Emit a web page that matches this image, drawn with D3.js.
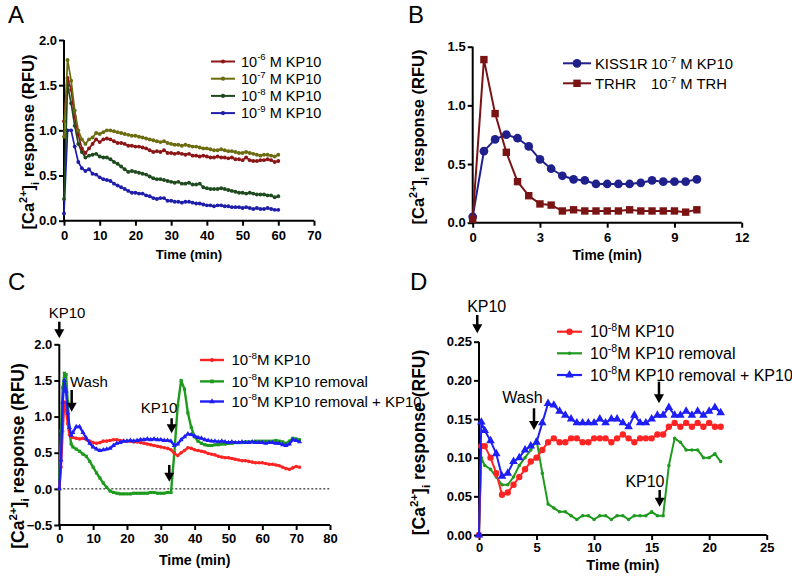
<!DOCTYPE html>
<html><head><meta charset="utf-8">
<script src="https://cdn.jsdelivr.net/npm/d3@7"></script>
<style>body{margin:0;background:#fff}svg{display:block}</style>
</head><body>
<svg id="c" width="792" height="582"></svg>
<script>
const FONT = '"Liberation Sans", Arial, sans-serif';

// ---------- Panel A ----------
const timesA = [0,1,2,3,4,5,6,7,8,9,10,11,12,13,14,15,16,17,18,19,20,21,22,23,24,25,26,27,28,29,30,31,32,33,34,35,36,37,38,39,40,41,42,43,44,45,46,47,48,49,50,51,52,53,54,55,56,57,58,59,60];
const kp6A = [1.10,1.58,1.45,1.15,0.95,0.80,0.75,0.80,0.85,0.90, 0.87,0.90,0.91,0.90,0.88,0.86,0.86,0.85,0.83,0.83, 0.82,0.82,0.81,0.80,0.78,0.76,0.77,0.76,0.78,0.75, 0.75,0.74,0.75,0.74,0.73,0.74,0.72,0.72,0.71,0.72, 0.71,0.70,0.70,0.71,0.70,0.70,0.69,0.70,0.68,0.68, 0.67,0.70,0.67,0.66,0.66,0.67,0.67,0.68,0.67,0.65,0.66];
const kp7A = [0.93,1.78,1.55,1.22,1.00,0.90,0.85,0.90,0.92,0.97, 0.96,0.98,1.00,1.00,0.99,0.98,0.97,0.96,0.95,0.94, 0.94,0.93,0.92,0.91,0.90,0.89,0.88,0.87,0.88,0.86, 0.85,0.84,0.84,0.83,0.84,0.83,0.82,0.82,0.81,0.80, 0.80,0.79,0.78,0.78,0.79,0.78,0.77,0.77,0.76,0.75, 0.75,0.76,0.75,0.74,0.73,0.72,0.73,0.73,0.72,0.71,0.73];
const kp8A = [0.24,1.50,1.30,1.05,0.85,0.76,0.70,0.72,0.73,0.74, 0.71,0.70,0.70,0.68,0.65,0.63,0.60,0.57,0.54,0.55, 0.54,0.53,0.52,0.51,0.49,0.47,0.46,0.46,0.45,0.44, 0.43,0.42,0.43,0.41,0.41,0.42,0.40,0.40,0.41,0.37, 0.36,0.35,0.35,0.35,0.36,0.35,0.34,0.33,0.32,0.31, 0.31,0.30,0.31,0.30,0.29,0.29,0.29,0.28,0.28,0.26,0.27];
const kp9A = [0.08,1.00,1.00,0.82,0.65,0.58,0.55,0.57,0.52,0.51, 0.48,0.46,0.45,0.44,0.41,0.39,0.37,0.35,0.33,0.31, 0.31,0.30,0.30,0.28,0.27,0.25,0.24,0.25,0.25,0.22, 0.22,0.21,0.21,0.20,0.21,0.21,0.20,0.19,0.19,0.18, 0.17,0.17,0.16,0.17,0.17,0.16,0.16,0.15,0.15,0.15, 0.14,0.15,0.14,0.13,0.14,0.13,0.13,0.14,0.13,0.12,0.12];
const legendA = [["-6"],["-7"],["-8"],["-9"]];
const xTicksA = [0,10,20,30,40,50,60,70];
const yTicksA = [0,0.5,1.0,1.5,2.0];

// ---------- Panel B ----------
const timesB = [0,0.5,1,1.5,2,2.5,3,3.5,4,4.5,5,5.5,6,6.5,7,7.5,8,8.5,9,9.5,10];
const kiss1rB = [0.05,0.61,0.71,0.75,0.72,0.65,0.54,0.46,0.40,0.37,0.36,0.33,0.33,0.33,0.33,0.34,0.36,0.35,0.35,0.35,0.37];
const trhrB   = [0.03,1.39,0.93,0.60,0.35,0.23,0.16,0.15,0.10,0.11,0.10,0.10,0.10,0.10,0.11,0.10,0.10,0.10,0.10,0.09,0.11];
const xTicksB = [0,3,6,9,12];
const yTicksB = [0,0.5,1.0,1.5];

// ---------- Panel C ----------
const timesC = [0,0.5,1,1.5,2,2.5,3,3.5,4,5,6,7,8,9,10,11,12,13,14,15,16,17,18,19,20,21,22,23,24,25,26,27,28,29,30,31,32,33,34,35,36,37,38,39,40,41,42,43,44,45,46,47,48,49,50,51,52,53,54,55,56,57,58,59,60,61,62,63,64,65,66,67,68,69,70,71];
const kpC = [0,0.30,0.80,1.20,1.10,0.90,0.75,0.72,0.71,
  0.70,0.69,0.70,0.68,0.66,0.64,0.63,0.64,0.66,0.66,
  0.67,0.68,0.68,0.67,0.66,0.66,0.66,0.65,0.65,0.64,
  0.63,0.62,0.61,0.60,0.59,0.58,0.57,0.56,0.54,0.49,
  0.46,0.50,0.53,0.57,0.56,0.54,0.53,0.52,0.51,0.49,
  0.48,0.47,0.45,0.44,0.43,0.43,0.42,0.41,0.40,0.39,
  0.39,0.38,0.37,0.36,0.36,0.36,0.35,0.34,0.34,0.33,
  0.32,0.30,0.28,0.27,0.29,0.31,0.30];
const removalC = [0,0.80,1.40,1.60,1.58,1.20,0.80,0.62,0.58,
  0.55,0.52,0.48,0.45,0.38,0.30,0.22,0.15,0.08,0.02,
  -0.03,-0.05,-0.06,-0.07,-0.07,-0.07,-0.07,-0.06,-0.06,-0.06,
  -0.06,-0.06,-0.05,-0.05,-0.06,-0.06,-0.06,-0.05,-0.05,0.50,
  1.15,1.50,1.38,1.05,0.85,0.72,0.66,0.63,0.61,0.60,
  0.60,0.61,0.61,0.62,0.62,0.63,0.63,0.64,0.64,0.64,
  0.65,0.65,0.65,0.66,0.66,0.66,0.66,0.66,0.66,0.67,
  0.66,0.65,0.63,0.66,0.70,0.69,0.68];
const removalKpC = [0,0.40,1.20,1.50,1.35,1.05,0.85,0.74,0.78,
  0.86,0.86,0.78,0.70,0.63,0.58,0.55,0.53,0.54,0.55,
  0.56,0.60,0.63,0.64,0.66,0.66,0.67,0.66,0.67,0.68,
  0.68,0.69,0.68,0.69,0.68,0.68,0.67,0.67,0.66,0.60,
  0.62,0.68,0.72,0.76,0.75,0.73,0.71,0.70,0.68,0.67,
  0.66,0.66,0.65,0.66,0.65,0.64,0.65,0.64,0.64,0.65,
  0.64,0.64,0.65,0.64,0.64,0.64,0.63,0.64,0.64,0.63,
  0.63,0.61,0.60,0.62,0.68,0.67,0.65];
const xTicksC = [0,10,20,30,40,50,60,70,80];
const yTicksC = [-0.5,0,0.5,1.0,1.5,2.0];

// ---------- Panel D ----------
const timesD = [0,0.2,0.5,1,1.5,2,2.5,3,3.5,4,4.5,5,5.5,6,6.5,7,7.5,8,8.5,9,9.5,10,10.5,11,11.5,12,12.5,13,13.5,14,14.5,15,15.5,16,16.5,17,17.5,18,18.5,19,19.5,20,20.5,21];
const kpD = [0,0.115,0.115,0.100,0.080,0.052,0.055,0.065,0.075,0.085,0.095,0.100,0.110,0.120,0.125,0.120,0.120,0.125,0.125,0.120,0.120,0.125,0.125,0.125,0.120,0.125,0.130,0.125,0.120,0.125,0.125,0.125,0.130,0.130,0.140,0.145,0.140,0.145,0.140,0.145,0.140,0.145,0.140,0.140];
const removalD = [0,0.100,0.090,0.085,0.075,0.065,0.065,0.075,0.090,0.100,0.110,0.123,0.080,0.040,0.035,0.030,0.030,0.025,0.020,0.025,0.025,0.020,0.025,0.025,0.020,0.025,0.025,0.020,0.025,0.025,0.025,0.030,0.025,0.025,0.090,0.125,0.120,0.110,0.110,0.110,0.100,0.100,0.105,0.095];
const removalKpD = [0,0.146,0.135,0.122,0.105,0.076,0.080,0.095,0.100,0.110,0.115,0.120,0.145,0.170,0.168,0.160,0.155,0.150,0.145,0.145,0.145,0.145,0.150,0.145,0.150,0.150,0.145,0.140,0.155,0.145,0.145,0.150,0.155,0.155,0.165,0.155,0.155,0.160,0.155,0.160,0.155,0.160,0.165,0.158];
const xTicksD = [0,5,10,15,20,25];
const yTicksD = [0,0.05,0.10,0.15,0.20,0.25];

// annotations: [label, t, value] and arrows [t, valueTop, valueTip]
const arrowsC = [[0,2.313,2.083],[3.66,1.368,1.068],[33.2,0.977,0.769],[32.5,0.331,0.10]];
const labelsC = [["KP10",2.3,2.36,"middle"],["Wash",3.16,1.414,"start"],["KP10",29.5,1.046,"middle"]];
const arrowsD = [[-0.15,0.2845,0.261],[4.78,0.1639,0.1358],[15.64,0.1983,0.1703],[15.7,0.0582,0.0366]];
const labelsD = [["KP10",0.67,0.2888,"middle"],["Wash",3.78,0.1703,"middle"],["KP10",14.42,0.0625,"middle"]];

const svg = d3.select('#c');

function rich(textSel, segs, fs) {
  let shift = 0;
  segs.forEach(s => {
    const target = s.sup ? -fs * 0.42 : (s.sub ? fs * 0.28 : 0);
    textSel.append('tspan')
      .attr('dy', target - shift)
      .attr('font-size', (s.sup || s.sub) ? fs * 0.66 : fs)
      .text(s.t);
    shift = target;
  });
}
const yTitleSegs = [{t:'[Ca'},{t:'2+',sup:true},{t:']'},{t:'i',sub:true},{t:' response (RFU)'}];

function panel(cfg) {
  const g = svg.append('g');
  const x = d3.scaleLinear().domain(cfg.xd).range(cfg.xr);
  const y = d3.scaleLinear().domain(cfg.yd).range(cfg.yr);
  const xa = g.append('g').attr('transform', `translate(0,${cfg.yr[0]})`)
    .call(d3.axisBottom(x).tickValues(cfg.xt).tickFormat(d3.format('d')).tickSize(5).tickSizeOuter(0).tickPadding(cfg.xpad));
  const ya = g.append('g').attr('transform', `translate(${cfg.xr[0]},0)`)
    .call(d3.axisLeft(y).tickValues(cfg.yt).tickFormat(d3.format(cfg.yf)).tickSize(5).tickSizeOuter(0).tickPadding(2));
  [xa, ya].forEach(a => {
    a.attr('font-family', FONT).attr('font-size', cfg.tfs).attr('font-weight', 'bold');
    a.select('.domain').attr('stroke', '#000').attr('stroke-width', 2);
    a.selectAll('.tick line').attr('stroke', '#000').attr('stroke-width', 2);
    a.selectAll('.tick text').attr('fill', '#000');
  });
  ya.select('.domain').attr('d', `M0,${cfg.yr[1]}V${cfg.yr[0]+1}`);
  xa.select('.domain').attr('d', `M${cfg.xr[0]-1},0H${cfg.xr[1]}`);
  g.append('text').attr('x', (cfg.xr[0]+cfg.xr[1])/2).attr('y', cfg.xtY)
    .attr('text-anchor','middle').attr('font-family',FONT).attr('font-weight','bold')
    .attr('font-size', cfg.xtfs).text('Time (min)');
  const yt = g.append('text').attr('transform', `translate(${cfg.ytX},${cfg.ytY}) rotate(-90)`)
    .attr('text-anchor','middle').attr('font-family',FONT).attr('font-weight','bold');
  rich(yt, yTitleSegs, cfg.ytfs);
  g.append('text').attr('x', cfg.letter[1]).attr('y', cfg.letter[2]).attr('font-family',FONT)
    .attr('font-size', 24).text(cfg.letter[0]);
  return {g, x, y};
}

function series(p, times, vals, color, width, sym, size) {
  const pts = times.map((t,i) => [t, vals[i]]);
  p.g.append('path').datum(pts)
    .attr('d', d3.line().x(d => p.x(d[0])).y(d => p.y(d[1])))
    .attr('fill','none').attr('stroke',color).attr('stroke-width',width).attr('stroke-linejoin','round');
  p.g.append('g').selectAll('path').data(pts).join('path')
    .attr('transform', d => `translate(${p.x(d[0])},${p.y(d[1])})`)
    .attr('d', d3.symbol().type(sym).size(size)).attr('fill', color);
}

function legendRow(g, x0, x1, yc, color, width, sym, size) {
  g.append('line').attr('x1',x0).attr('x2',x1).attr('y1',yc).attr('y2',yc)
    .attr('stroke',color).attr('stroke-width',width);
  g.append('path').attr('transform',`translate(${(x0+x1)/2},${yc})`)
    .attr('d', d3.symbol().type(sym).size(size)).attr('fill',color);
}

function arrowAnn(p, t, vTop, vTip) {
  const xx = p.x(t), y0 = p.y(vTop), y1 = p.y(vTip);
  p.g.append('line').attr('x1',xx).attr('x2',xx).attr('y1',y0).attr('y2',y1-7)
    .attr('stroke','#000').attr('stroke-width',2.5);
  p.g.append('path').attr('d', `M${xx-5},${y1-9}L${xx+5},${y1-9}L${xx},${y1}Z`).attr('fill','#000');
}
function labelAnn(p, lab, t, v, anchor, fs) {
  p.g.append('text').attr('x', p.x(t)).attr('y', p.y(v)).attr('text-anchor', anchor)
    .attr('font-family', FONT).attr('font-size', fs).text(lab);
}

// ===== Panel A =====
const pA = panel({xd:[0,70], xr:[64,314], yd:[0,2], yr:[220.7,40], xt:xTicksA, yt:yTicksA, yf:'.1f',
  tfs:13, xpad:5, xtfs:13.2, xtY:259, ytX:34, ytY:142, ytfs:16.5, letter:['A',8,23]});
const colA = ['#8c1515','#6b6b10','#1f4a1f','#1e1eaa'];
const dataA = [kp6A, kp7A, kp8A, kp9A];
[3,2,0,1].forEach(i => series(pA, timesA, dataA[i], colA[i], 1.7, d3.symbolCircle, 12));
legendA.forEach((e, i) => {
  const yc = 61.5 + i*17.2;
  legendRow(pA.g, 211, 235, yc, colA[i], 2, d3.symbolCircle, 14);
  const t = pA.g.append('text').attr('x', 241).attr('y', yc + 5).attr('font-family', FONT);
  rich(t, [{t:'10'},{t:e[0],sup:true},{t:' M KP10'}], 14.5);
});

// ===== Panel B =====
const pB = panel({xd:[0,12], xr:[472.7,741.7], yd:[0,1.5], yr:[222.7,46.7], xt:xTicksB, yt:yTicksB, yf:'.1f',
  tfs:13, xpad:5, xtfs:13.8, xtY:259.5, ytX:424, ytY:137, ytfs:16.5, letter:['B',408,23]});
series(pB, timesB, kiss1rB, '#20208c', 2, d3.symbolCircle, 60);
series(pB, timesB, trhrB, '#7a1414', 2, d3.symbolSquare, 55);
legendRow(pB.g, 563, 591, 63.3, '#20208c', 2, d3.symbolCircle, 60);
legendRow(pB.g, 563, 591, 83.3, '#7a1414', 2, d3.symbolSquare, 55);
[[63.3,'KISS1R','-7',' M KP10'],[83.3,'TRHR','-7',' M TRH']].forEach(r => {
  pB.g.append('text').attr('x',595).attr('y',r[0]+5.5).attr('font-family',FONT).attr('font-size',14.8).text(r[1]);
  const t = pB.g.append('text').attr('x',651).attr('y',r[0]+5.5).attr('font-family',FONT);
  rich(t, [{t:'10'},{t:r[2],sup:true},{t:r[3]}], 14.8);
});

// ===== Panel C =====
const pC = panel({xd:[0,80], xr:[59.3,330], yd:[-0.5,2], yr:[525,344.3], xt:xTicksC, yt:yTicksC, yf:'.1f',
  tfs:13, xpad:4, xtfs:14.2, xtY:565, ytX:24, ytY:456, ytfs:17.5, letter:['C',8,290]});
pC.g.append('line').attr('x1',pC.x(0)).attr('x2',pC.x(80)).attr('y1',pC.y(0)).attr('y2',pC.y(0))
  .attr('stroke','#000').attr('stroke-width',1).attr('stroke-dasharray','2,2');
const colCD = ['#ff2424','#1e9a1e','#1e1ef5'];
series(pC, timesC, removalC, colCD[1], 2.4, d3.symbolSquare, 10);
series(pC, timesC, kpC, colCD[0], 2.4, d3.symbolCircle, 10);
series(pC, timesC, removalKpC, colCD[2], 2.4, d3.symbolTriangle, 11);
const legTextsCD = [' KP10',' KP10 removal',' KP10 removal + KP10'];
[[360,d3.symbolCircle],[381.4,d3.symbolSquare],[401.5,d3.symbolTriangle]].forEach((r,i) => {
  legendRow(pC.g, 200, 224, r[0], colCD[i], 2.4, r[1], 14);
  const t = pC.g.append('text').attr('x',231.5).attr('y',r[0]+5.2).attr('font-family',FONT);
  rich(t, [{t:'10'},{t:'-8',sup:true},{t:'M' + legTextsCD[i]}], 15);
});
arrowsC.forEach(a => arrowAnn(pC, a[0], a[1], a[2]));
labelsC.forEach(l => labelAnn(pC, l[0], l[1], l[2], l[3], 15));

// ===== Panel D =====
const pD = panel({xd:[0,25], xr:[479,766.7], yd:[0,0.25], yr:[535,341.7], xt:xTicksD, yt:yTicksD, yf:'.2f',
  tfs:13, xpad:3, xtfs:14.5, xtY:569.5, ytX:425, ytY:442.5, ytfs:17.5, letter:['D',410,290]});
series(pD, timesD, removalD, colCD[1], 2, d3.symbolCircle, 10);
series(pD, timesD, kpD, colCD[0], 2, d3.symbolCircle, 32);
series(pD, timesD, removalKpD, colCD[2], 2, d3.symbolTriangle, 32);
[[331.7,d3.symbolCircle,32],[353.3,d3.symbolCircle,10],[375,d3.symbolTriangle,32]].forEach((r,i) => {
  legendRow(pD.g, 557, 582, r[0], colCD[i], 2.2, r[1], r[2]);
  const t = pD.g.append('text').attr('x',590).attr('y',r[0]+5.6).attr('font-family',FONT);
  rich(t, [{t:'10'},{t:'-8',sup:true},{t:'M' + legTextsCD[i]}], 16);
});
arrowsD.forEach(a => arrowAnn(pD, a[0], a[1], a[2]));
labelsD.forEach(l => labelAnn(pD, l[0], l[1], l[2], l[3], 16));
</script>
</body></html>
